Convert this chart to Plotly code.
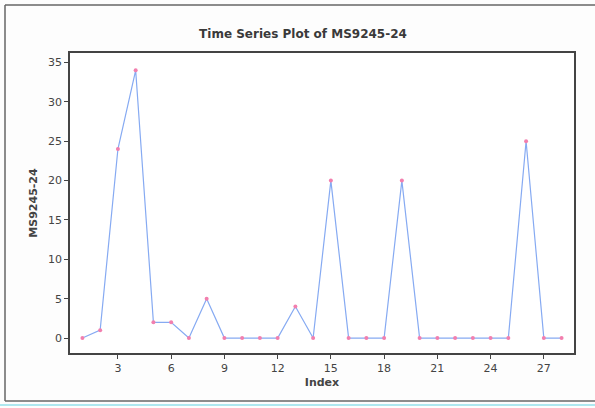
import plotly.graph_objects as go

index = list(range(1, 29))
values = [0, 1, 24, 34, 2, 2, 0, 5, 0, 0, 0, 0, 4, 0, 20, 0, 0, 0, 20, 0, 0, 0, 0, 0, 0, 25, 0, 0]
x_ticks = [3, 6, 9, 12, 15, 18, 21, 24, 27]
y_ticks = [0, 5, 10, 15, 20, 25, 30, 35]

L, R, T, B = 70, 21, 53, 55
W, H = 595, 408
pw, ph = W - L - R, H - T - B

def px(x):
    return (x - L) / pw

def py(y):
    return (H - B - y) / ph

frame = dict(color="#666", width=1.5)

fig = go.Figure()
fig.add_trace(go.Scatter(
    x=index, y=values, mode="lines+markers",
    line=dict(color="#86aaf2", width=1.2),
    marker=dict(color="#f27fae", size=4, symbol="circle"),
    showlegend=False,
))

fig.update_layout(
    width=W, height=H,
    margin=dict(l=L, r=R, t=T, b=B),
    paper_bgcolor="#fdfdfd",
    plot_bgcolor="white",
    title=dict(text="<b>Time Series Plot of MS9245-24</b>", x=(303) / W, xanchor="center",
               y=1 - 34 / H, yanchor="middle",
               font=dict(family="DejaVu Sans", size=12, color="#3a3a3a")),
    font=dict(family="DejaVu Sans", size=11, color="#444"),
    xaxis=dict(range=[0.3, 28.7], tickvals=x_ticks, ticks="outside", ticklen=4,
               tickcolor="#444", showgrid=False, zeroline=False,
               showline=True, linecolor="#444", linewidth=1.5, mirror=True,
               title=dict(text="<b>Index</b>", standoff=4, font=dict(size=11))),
    yaxis=dict(range=[-1.9, 36.2], tickvals=y_ticks, ticks="outside", ticklen=4,
               tickcolor="#444", showgrid=False, zeroline=False,
               showline=True, linecolor="#444", linewidth=1.5, mirror=True,
               title=dict(text="<b>MS9245-24</b>", standoff=8, font=dict(size=11))),
    shapes=[
        dict(type="line", xref="paper", yref="paper",
             x0=px(5), x1=px(5), y0=py(401), y1=py(5), line=frame),
        dict(type="line", xref="paper", yref="paper",
             x0=px(5), x1=px(595), y0=py(5), y1=py(5), line=frame),
        dict(type="line", xref="paper", yref="paper",
             x0=px(5), x1=px(595), y0=py(401), y1=py(401), line=frame),
        dict(type="line", xref="paper", yref="paper",
             x0=px(0), x1=px(595), y0=py(405), y1=py(405),
             line=dict(color="#aee8f0", width=2)),
    ],
)

fig.write_html("out.html")
